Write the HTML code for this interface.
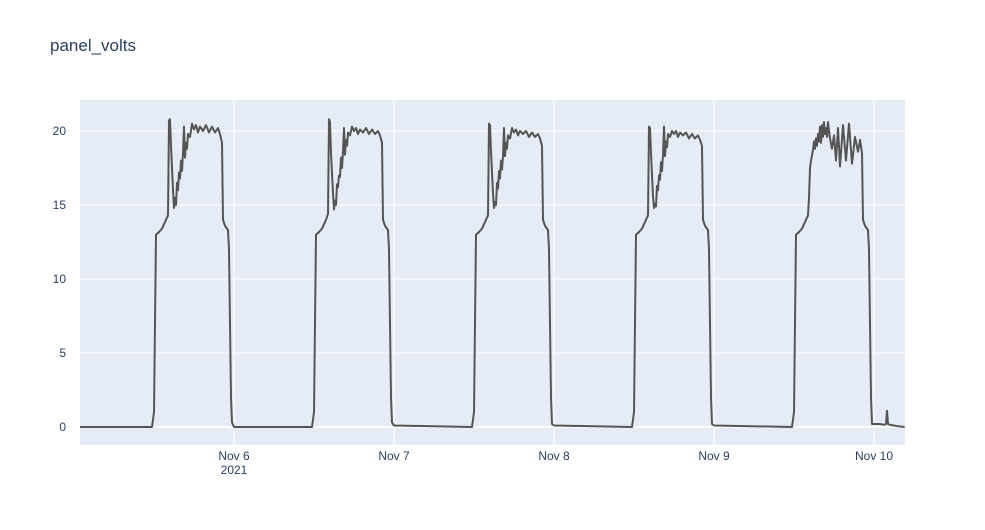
<!DOCTYPE html>
<html><head><meta charset="utf-8"><style>
body{margin:0;background:#fff;font-family:"Liberation Sans",Arial,sans-serif}
text{font-family:"Liberation Sans",Arial,sans-serif;fill:#2a3f5f}
</style></head><body>
<svg id="chart" width="985" height="525">
<text x="50" y="51" font-size="17">panel_volts</text>
<rect x="80" y="100" width="825" height="345" fill="#e5ecf6"/>
<g id="grid"></g><g id="series"></g><g id="axes"></g>
</svg>
<script>
// hour-of-day for each daily profile sample
const dayHours=[11.7,12.0,12.3,12.6,13.2,13.8,14.1,14.25,14.4,14.55,14.85,15.0,15.15,15.3,15.45,15.6,15.75,15.9,16.05,16.2,16.35,16.5,16.65,16.8,16.95,17.1,17.4,17.7,18.0,18.3,18.6,18.9,19.35,19.8,20.25,20.7,21.15,21.6,21.9,22.2,22.35,22.65,23.1,23.25,23.55,23.7,24.0];
const nov5=[0,1,13,13.1,13.4,14,14.3,20.7,20.8,19,16,14.8,15.5,15,16.5,16,17.2,16.8,18,17.3,18.5,20.3,18.2,19.2,18.8,19.8,19.6,20.5,20.1,20.4,19.9,20.3,20.0,20.4,19.9,20.3,19.9,20.2,19.8,19.2,14,13.6,13.3,12,2,0.3,0];
const nov6=[0,1,13,13.1,13.4,14,14.4,20.8,20.6,18.5,15.8,14.7,15.3,15.0,16.4,16.2,17.0,16.9,18.2,17.5,18.6,20.2,18.4,19.4,19.0,19.9,19.7,20.3,20.0,20.2,19.8,20.1,19.9,20.2,19.8,20.1,19.8,20.0,19.7,19.2,14,13.6,13.3,12,2,0.3,0.1];
const nov7=[0,1,13,13.1,13.4,14,14.3,20.5,20.4,18.6,15.8,14.8,15.2,15.0,16.5,16.1,17.3,16.8,18.0,17.4,18.3,20.2,18.3,19.2,18.8,19.7,19.5,20.2,19.9,20.1,19.7,20.0,19.8,20.0,19.6,19.9,19.6,19.8,19.5,19.0,14,13.6,13.3,12,2,0.2,0.1];
const nov8=[0,1,13,13.1,13.4,14,14.3,20.3,20.2,18.5,15.6,14.8,15.1,14.9,16.3,16.0,17.0,16.7,17.9,17.3,18.4,20.3,18.3,19.3,18.9,19.8,19.6,20.0,19.8,20.0,19.6,19.9,19.7,19.9,19.5,19.8,19.5,19.7,19.4,19.0,14,13.6,13.3,12,2,0.2,0.1];
const nov9=[0,1,13,13.1,13.4,14,14.3,15.5,17.5,18.0,18.7,19.3,18.8,19.5,19.0,19.8,19.3,20.3,19.2,20.4,19.6,20.6,19.8,20.2,19.6,20.6,19.5,18.8,19.7,18.0,20.2,17.6,20.4,18.0,20.5,17.8,19.6,18.6,19.4,18.5,14,13.6,13.3,12,2,0.2,0.2];
const dayValues=[nov5,nov6,nov7,nov8,nov9];
const tailHours=[120.3,120.9,121.5,121.8,121.95,122.1,122.4,123.0,123.6,124.6];
const tailValues=[0.2,0.2,0.15,0.2,1.1,0.2,0.15,0.1,0.05,0];
const yTicks=[0,5,10,15,20];
const xTickLabels=["Nov 6","Nov 7","Nov 8","Nov 9","Nov 10"];
const xTickAll=[24,48,72,96,120];

const NS="http://www.w3.org/2000/svg";
const xs=h=>234+(h-24)*160/24;
const ys=v=>427-v*14.8;
function mk(tag,attrs,parent){const e=document.createElementNS(NS,tag);for(const k in attrs)e.setAttribute(k,attrs[k]);parent.appendChild(e);return e;}
const grid=document.getElementById('grid'),axes=document.getElementById('axes'),series=document.getElementById('series');
yTicks.forEach(v=>{
  const l=mk('line',{x1:80,x2:905,y1:ys(v),y2:ys(v),stroke:'#fff','stroke-width':v===0?2:1},grid);
  
  
  const t=mk('text',{x:66,y:ys(v)+4,'font-size':12,'text-anchor':'end'},axes);
  t.textContent=v;
  
  
});
xTickAll.forEach((h,i)=>{
  const l=mk('line',{x1:xs(h),x2:xs(h),y1:100,y2:445,stroke:'#fff','stroke-width':1},grid);
  
  
  const t=mk('text',{x:xs(h),y:460,'font-size':12,'text-anchor':'middle'},axes);
  t.textContent=xTickLabels[i];
  
  
});
const yr=mk('text',{x:xs(24),y:474,'font-size':12,'text-anchor':'middle'},axes);
yr.textContent='2021';


let pts=[[0.9,0]];
dayValues.forEach((vals,d)=>{dayHours.forEach((h,i)=>pts.push([d*24+h,vals[i]]));});
tailHours.forEach((h,i)=>pts.push([h,tailValues[i]]));
const p=mk('path',{d:pts.map((q,i)=>(i?'L':'M')+xs(q[0]).toFixed(1)+','+ys(q[1]).toFixed(1)).join(''),fill:'none',stroke:'#555','stroke-width':2,'stroke-linejoin':'round'},series);


</script>
</body></html>
